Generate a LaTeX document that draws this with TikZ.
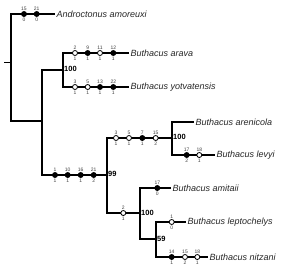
\documentclass[tikz,border=0pt]{standalone}
\usepackage{fontspec}
\setmainfont{Liberation Sans}
\usepackage{tikz}
\usetikzlibrary{positioning}

\begin{document}
\begin{tikzpicture}[
    x=1pt, y=-1pt,
    branch/.style={draw=black, line width=1.4pt, line join=miter},
    taxon/.style={anchor=west, inner sep=1.5pt, font=\fontsize{9}{10}\selectfont\itshape, text=black!85},
    num/.style={font=\fontsize{5}{5}\selectfont, text=black!75, inner sep=0.5pt},
    supp/.style={anchor=west, inner sep=1pt, font=\fontsize{7.5}{8}\selectfont\bfseries},
    full/.style={circle, draw=black, fill=black, line width=0.8pt, minimum size=5pt, inner sep=0pt},
    open/.style={circle, draw=black, fill=white, line width=0.8pt, minimum size=5pt, inner sep=0pt},
    chr/.style 2 args={label={[num, yshift=-0.5pt]above:#1}, label={[num, yshift=-0.5pt]below:#2}}
]
    \useasboundingbox (0,0) rectangle (289,268);

    % Internal nodes of the tree
    \coordinate (stub) at (4,62.5);
    \coordinate (n0) at (11,62.5);
    \coordinate (n1) at (42,121);
    \coordinate (n2) at (63,70);
    \coordinate (n3) at (107,175);
    \coordinate (n4) at (172,138);
    \coordinate (n5) at (140,213);
    \coordinate (n6) at (156,239);

    % Terminal taxa
    \node[taxon] (amor)  at (55,14)  {Androctonus amoreuxi};
    \node[taxon] (arava) at (129,53)  {Buthacus arava};
    \node[taxon] (yotv)  at (129,87)  {Buthacus yotvatensis};
    \node[taxon] (aren)  at (194,122) {Buthacus arenicola};
    \node[taxon] (levyi) at (215,155) {Buthacus levyi};
    \node[taxon] (amit)  at (171,188) {Buthacus amitaii};
    \node[taxon] (lepto) at (186,222) {Buthacus leptochelys};
    \node[taxon] (nitz)  at (208,257) {Buthacus nitzani};

    % ── Branches ──
    \draw[branch] (stub) -- (n0);
    \draw[branch] (n0) |- (amor.west);
    \draw[branch] (n0) |- (n1);
    \draw[branch] (n1) |- (n2);
    \draw[branch] (n1) |- (n3);
    \draw[branch] (n2) |- (arava.west);
    \draw[branch] (n2) |- (yotv.west);
    \draw[branch] (n3) |- (n4);
    \draw[branch] (n3) |- (n5);
    \draw[branch] (n4) |- (aren.west);
    \draw[branch] (n4) |- (levyi.west);
    \draw[branch] (n5) |- (amit.west);
    \draw[branch] (n5) |- (n6);
    \draw[branch] (n6) |- (lepto.west);
    \draw[branch] (n6) |- (nitz.west);

    % ── Support values ──
    \node[supp] (s2) at ([yshift=1pt]n2) {100};
    \node[supp] (s3) at ([yshift=1pt]n3) {99};
    \node[supp] (s4) at ([yshift=1pt]n4) {100};
    \node[supp] (s5) at ([yshift=0pt]n5) {100};
    \node[supp] (s6) at ([yshift=0pt]n6) {59};

    % ── Character changes ──
    \node[full, chr={15}{0}] (c1) at (24,14) {};
    \node[full, chr={21}{0}] (c2) at (36.7,14) {};

    \node[open, chr={2}{1}]  (c3) at (75,53) {};
    \node[full, chr={9}{1}]  (c4) at (87.7,53) {};
    \node[open, chr={11}{1}] (c5) at (100,53) {};
    \node[full, chr={12}{1}] (c6) at (113.3,53) {};

    \node[open, chr={3}{1}]  (c7)  at (75,87) {};
    \node[open, chr={5}{1}]  (c8)  at (87.7,87) {};
    \node[full, chr={13}{1}] (c9)  at (100,87) {};
    \node[full, chr={22}{1}] (c10) at (113.3,87) {};

    \node[full, chr={1}{1}]  (c11) at (55,175) {};
    \node[full, chr={10}{1}] (c12) at (67.7,175) {};
    \node[full, chr={16}{1}] (c13) at (80.7,175) {};
    \node[full, chr={21}{2}] (c14) at (93.7,175) {};

    \node[open, chr={3}{1}]  (c15) at (116,138) {};
    \node[open, chr={5}{1}]  (c16) at (129,138) {};
    \node[full, chr={7}{1}]  (c17) at (142.3,138) {};
    \node[open, chr={15}{2}] (c18) at (155.7,138) {};

    \node[full, chr={17}{2}] (c19) at (186.7,155) {};
    \node[open, chr={18}{1}] (c20) at (199.3,155) {};

    \node[open, chr={2}{1}]  (c21) at (123.3,213) {};
    \node[full, chr={17}{0}] (c22) at (157.3,188) {};
    \node[open, chr={1}{0}]  (c23) at (171.7,222) {};

    \node[full, chr={14}{1}] (c24) at (171.7,257) {};
    \node[open, chr={15}{2}] (c25) at (185,257) {};
    \node[open, chr={18}{1}] (c26) at (197.3,257) {};
\end{tikzpicture}
\end{document}
